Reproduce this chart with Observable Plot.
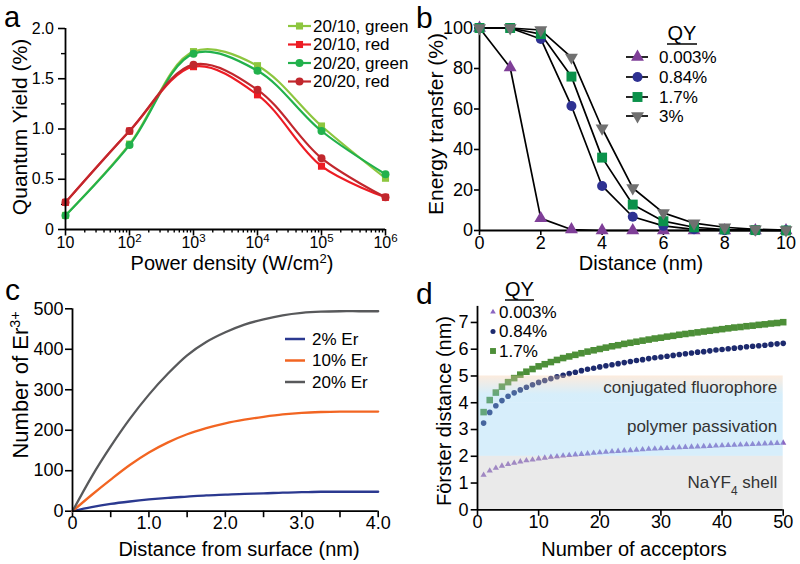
<!DOCTYPE html>
<html><head><meta charset="utf-8">
<script src="https://cdn.jsdelivr.net/npm/d3@7"></script>
<script src="https://cdn.jsdelivr.net/npm/@observablehq/plot@0.6"></script>
<style>
html,body{margin:0;padding:0;background:#fff;}
#wrap{position:relative;width:800px;height:564px;overflow:hidden;background:#fff;}
svg{overflow:visible;}
</style></head><body><div id="wrap"></div>
<script>
// ---------------- DATA ----------------
// Panel a
const powerDensity = [10, 100, 1000, 1e4, 1e5, 1e6];
const seriesA = ["20/10, green", "20/10, red", "20/20, green", "20/20, red"];
const qy2010Green = [0.14, 0.85, 1.77, 1.63, 1.03, 0.51];
const qy2010Red   = [0.27, 0.98, 1.62, 1.34, 0.63, 0.32];
const qy2020Green = [0.14, 0.84, 1.75, 1.58, 0.98, 0.55];
const qy2020Red   = [0.27, 0.98, 1.64, 1.39, 0.71, 0.32];
const colorsA = ["#8dc63f", "#ed1c24", "#22b14c", "#c1272d"];
const symbolsA = ["square", "square", "circle", "circle"];
const xTicksA = [10, 100, 1000, 1e4, 1e5, 1e6];
const yTicksA = [0, 0.5, 1, 1.5, 2];
const yMinorA = [0.25, 0.75, 1.25, 1.75];

// Panel b
const distanceB = [0, 1, 2, 3, 4, 5, 6, 7, 8, 9, 10];
const seriesB = ["0.003%", "0.84%", "1.7%", "3%"];
const et0003 = [100, 80.5, 6, 0.5, 0, 0, 0, 0, 0, 0, 0];
const et084  = [100, 100, 94.6, 61.5, 22, 6.8, 2.3, 0.6, 0.1, 0, 0];
const et17   = [100, 100, 97, 76, 36, 12.8, 4.6, 1.6, 0.5, 0.2, 0];
const et3    = [100, 100, 99, 85.5, 50.5, 21, 8.7, 3.6, 1.6, 0.6, 0.2];
const colorsB = ["#7f3f98", "#2e3192", "#0b914a", "#707070"];
const xTicksB = [0, 2, 4, 6, 8, 10];
const yTicksB = [0, 20, 40, 60, 80, 100];

// Panel c
const distanceC = [0, 0.25, 0.5, 0.75, 1.0, 1.25, 1.5, 1.75, 2.0, 2.25, 2.5, 2.75, 3.0, 3.25, 3.5, 3.75, 4.0];
const seriesC = ["2% Er", "10% Er", "20% Er"];
const er2  = [0, 10, 18, 24, 29, 33, 36, 39, 41, 43, 44, 46, 47, 48, 48, 48, 48];
const er10 = [0, 40, 78, 114, 145, 170, 190, 205, 217, 226, 233, 239, 243, 245, 246, 246, 246];
const er20 = [0, 85, 160, 228, 288, 340, 385, 418, 442, 461, 474, 484, 490, 493, 494, 494, 494];
const colorsC = ["#2b3990", "#f26522", "#58595b"];
const xTicksC = [0, 0.5, 1, 1.5, 2, 2.5, 3, 3.5, 4];
const yTicksC = [0, 100, 200, 300, 400, 500];

// Panel d
const acceptors = d3.range(1, 51);
const seriesD = ["0.003%", "0.84%", "1.7%"];
const r0003 = [1.30,1.46,1.56,1.64,1.70,1.75,1.80,1.84,1.87,1.91,1.94,1.97,1.99,2.02,2.04,2.06,2.08,2.10,2.12,2.14,2.16,2.18,2.19,2.21,2.22,2.24,2.25,2.27,2.28,2.29,2.30,2.32,2.33,2.34,2.35,2.36,2.37,2.38,2.39,2.40,2.41,2.42,2.43,2.44,2.45,2.46,2.47,2.48,2.49,2.50];
const r084 = [3.24,3.64,3.89,4.08,4.24,4.37,4.48,4.58,4.67,4.76,4.83,4.90,4.97,5.03,5.09,5.14,5.20,5.25,5.29,5.34,5.38,5.42,5.46,5.50,5.54,5.58,5.61,5.65,5.68,5.71,5.74,5.77,5.80,5.83,5.86,5.89,5.91,5.94,5.97,5.99,6.02,6.04,6.06,6.09,6.11,6.13,6.15,6.18,6.20,6.22];
const r17 = [3.65,4.10,4.38,4.60,4.77,4.92,5.05,5.16,5.26,5.36,5.44,5.52,5.60,5.67,5.73,5.79,5.85,5.91,5.96,6.01,6.06,6.11,6.15,6.20,6.24,6.28,6.32,6.36,6.40,6.43,6.47,6.50,6.54,6.57,6.60,6.63,6.66,6.69,6.72,6.75,6.78,6.81,6.83,6.86,6.88,6.91,6.93,6.96,6.98,7.01];
const colorsD = ["#8b66c2", "#1d2a6e", "#4d8f38"];
const bandLo = [0, 2, 4];
const bandHi = [2, 4, 5];
const bandLabel = ["NaYF₄ shell", "polymer passivation", "conjugated fluorophore"];
const bandLabelAt = [1.0, 3.1, 4.55];
const xTicksD = [0, 10, 20, 30, 40, 50];
const yTicksD = [0, 1, 2, 3, 4, 5, 6, 7];

// ---------------- HELPERS ----------------
const FONT = '"Liberation Sans", Arial, Helvetica, sans-serif';
const wrap = document.getElementById("wrap");
function put(svg, left, top) {
  svg.style.position = "absolute";
  svg.style.left = left + "px";
  svg.style.top = top + "px";
  wrap.appendChild(svg);
  return svg;
}
const styleFor = (fs) => ({background: "transparent", overflow: "visible", fontFamily: FONT, fontSize: fs + "px", color: "#000", maxWidth: "none"});
const triDown = {
  draw(ctx, size) {
    const s3 = Math.sqrt(3);
    const y = -Math.sqrt(size / (s3 * 3));
    ctx.moveTo(0, -y * 2);
    ctx.lineTo(-s3 * y, y);
    ctx.lineTo(s3 * y, y);
    ctx.closePath();
  }
};
const AX = 1.8; // axis stroke width

// ---------------- PANEL A ----------------
const valuesA = [qy2010Green, qy2010Red, qy2020Green, qy2020Red];
const tableA = seriesA.flatMap((name, i) => powerDensity.map((p, j) => ({name, p, qy: valuesA[i][j]})));
const minorXA = d3.range(1, 6).flatMap(e => d3.range(2, 10).map(m => m * 10 ** e));
const drawOrderA = [0, 2, 1, 3];
const svgA = Plot.plot({
  width: 400, height: 280, marginLeft: 65, marginRight: 15, marginTop: 28, marginBottom: 51,
  style: styleFor(16),
  x: {type: "log", domain: [10, 1e6]},
  y: {domain: [0, 2]},
  marks: [
    Plot.axisX({ticks: minorXA, tickSize: 3.5, tickFormat: () => "", label: null, strokeWidth: 1.4}),
    Plot.axisX({ticks: xTicksA, tickSize: 6.5, tickPadding: 0.5, label: null, strokeWidth: 1.6, fontSize: 16,
      tickFormat: d => { const e = Math.round(Math.log10(d)); return e === 1 ? "10" : "10|" + e; }}),
    Plot.axisY({ticks: yMinorA, tickSize: 4, tickFormat: () => "", label: null, strokeWidth: 1.4}),
    Plot.axisY({ticks: yTicksA, tickSize: 7, tickPadding: 4.5, label: null, strokeWidth: 1.6, fontSize: 16,
      tickFormat: d => d === 0 ? "0" : d.toFixed(1)}),
    ...drawOrderA.flatMap(i => [
      Plot.line(tableA.filter(d => d.name === seriesA[i]), {x: "p", y: "qy", stroke: colorsA[i], strokeWidth: 2.2, curve: "catmull-rom"}),
      Plot.dot(tableA.filter(d => d.name === seriesA[i]), {x: "p", y: "qy", fill: colorsA[i], symbol: symbolsA[i], r: 4})
    ]),
    Plot.ruleY([0], {stroke: "#000", strokeWidth: AX}),
    Plot.ruleX([10], {stroke: "#000", strokeWidth: AX})
  ]
});
svgA.querySelectorAll("text").forEach(t => {
  const s = t.textContent;
  if (/^10\|\d$/.test(s)) {
    const [b, e] = s.split("|");
    t.textContent = b;
    const sp = document.createElementNS("http://www.w3.org/2000/svg", "tspan");
    sp.setAttribute("baseline-shift", "super");
    sp.setAttribute("font-size", "0.72em");
    sp.textContent = e;
    t.appendChild(sp);
  }
});
put(svgA, 0, 0);

// ---------------- PANEL B ----------------
const valuesB = [et0003, et084, et17, et3];
const tableB = seriesB.flatMap((name, i) => distanceB.map((x, j) => ({name, x, v: valuesB[i][j]})));
const symbolsB = ["triangle", "circle", "square", triDown];
const rB = [4.8, 5, 5.6, 4.8];
const svgB = Plot.plot({
  width: 400, height: 280, marginLeft: 79, marginRight: 14.5, marginTop: 27.5, marginBottom: 50,
  style: styleFor(18),
  x: {domain: [0, 10]},
  y: {domain: [0, 100]},
  marks: [
    Plot.axisX({ticks: xTicksB, tickSize: 5, tickPadding: 0.5, label: null, strokeWidth: 1.6, fontSize: 18}),
    Plot.axisY({ticks: yTicksB, tickSize: 5, tickPadding: 1.5, label: null, strokeWidth: 1.6, fontSize: 18}),
    Plot.ruleY([0], {stroke: "#000", strokeWidth: AX}),
    Plot.ruleX([0], {stroke: "#000", strokeWidth: AX}),
    ...seriesB.map(name => Plot.line(tableB.filter(d => d.name === name), {x: "x", y: "v", stroke: "#000", strokeWidth: 1.7})),
    ...seriesB.map((name, i) => Plot.dot(tableB.filter(d => d.name === name), {x: "x", y: "v", fill: colorsB[i], symbol: symbolsB[i], r: rB[i]}))
  ]
});
put(svgB, 400, 0);

// ---------------- PANEL C ----------------
const valuesC = [er2, er10, er20];
const tableC = seriesC.flatMap((name, i) => distanceC.map((x, j) => ({name, x, n: valuesC[i][j]})));
const svgC = Plot.plot({
  width: 400, height: 284, marginLeft: 72, marginRight: 22.3, marginTop: 28.3, marginBottom: 53.3,
  style: styleFor(18),
  x: {domain: [0, 4]},
  y: {domain: [0, 500]},
  marks: [
    Plot.axisX({ticks: xTicksC, tickSize: 6.5, tickPadding: -1.5, label: null, strokeWidth: 1.6, fontSize: 18,
      tickFormat: d => d === 0 ? "0" : (d % 1 === 0 ? d.toFixed(1) : "")}),
    Plot.axisY({ticks: yTicksC, tickSize: 7, tickPadding: 2, label: null, strokeWidth: 1.6, fontSize: 18}),
    ...seriesC.map((name, i) => Plot.line(tableC.filter(d => d.name === name), {x: "x", y: "n", stroke: colorsC[i], strokeWidth: 2.3, curve: "catmull-rom"})),
    Plot.ruleY([0], {stroke: "#000", strokeWidth: AX}),
    Plot.ruleX([0], {stroke: "#000", strokeWidth: AX})
  ]
});
put(svgC, 0, 280);

// ---------------- PANEL D ----------------
const valuesD = [r0003, r084, r17];
const tableD = seriesD.flatMap((name, i) => acceptors.map((n, j) => ({name, n, r: valuesD[i][j]})));
const symbolsD = ["triangle", "circle", "square"];
const rD = [2.3, 2.8, 3.7];
const bands = bandLo.map((lo, i) => ({lo, hi: bandHi[i], label: bandLabel[i], at: bandLabelAt[i]}));
const bandFills = ["#c4c4c4", "#8fd0f3", "url(#fadeD)"];
const svgD = Plot.plot({
  width: 400, height: 284, marginLeft: 77, marginRight: 17.3, marginTop: 25.9, marginBottom: 54.7,
  style: styleFor(18),
  x: {domain: [0, 50]},
  y: {domain: [0, 7.6]},
  marks: [
    ...seriesD.map((name, i) => Plot.dot(tableD.filter(d => d.name === name), {x: "n", y: "r", fill: colorsD[i], symbol: symbolsD[i], r: rD[i]})),
    ...bands.map((b, i) => Plot.rect([b], {y1: "lo", y2: "hi", fill: bandFills[i], fillOpacity: 0.36})),
    Plot.text(bands, {y: "at", text: "label", frameAnchor: "right", textAnchor: "end", dx: -6, fontSize: 17, fill: "#333"}),
    Plot.axisX({ticks: xTicksD, tickSize: 6.5, tickPadding: -1.5, label: null, strokeWidth: 1.6, fontSize: 18}),
    Plot.axisY({ticks: yTicksD, tickSize: 6.3, tickPadding: 2.7, label: null, strokeWidth: 1.6, fontSize: 18}),
    Plot.ruleY([0], {stroke: "#000", strokeWidth: AX}),
    Plot.ruleX([0], {stroke: "#000", strokeWidth: AX})
  ]
});
{
  const ns = "http://www.w3.org/2000/svg";
  const defs = document.createElementNS(ns, "defs");
  defs.innerHTML = '<linearGradient id="fadeD" x1="0" y1="1" x2="0" y2="0">' +
    '<stop offset="0" stop-color="#8fd0f3"/><stop offset="0.3" stop-color="#8fd0f3"/>' +
    '<stop offset="1" stop-color="#f7c9a2"/></linearGradient>';
  svgD.insertBefore(defs, svgD.firstChild);
  svgD.querySelectorAll("text").forEach(t => {
    const s = t.textContent;
    if (s.includes("₄")) {
      const [pre, post] = s.split("₄");
      t.textContent = pre;
      const sub = document.createElementNS(ns, "tspan");
      sub.setAttribute("baseline-shift", "sub");
      sub.setAttribute("font-size", "0.7em");
      sub.textContent = "4";
      const rest = document.createElementNS(ns, "tspan");
      rest.textContent = post;
      t.appendChild(sub);
      t.appendChild(rest);
    }
  });
}
put(svgD, 400, 280);

// ---------------- OVERLAY: letters, titles, legends ----------------
const ov = d3.create("svg").attr("width", 800).attr("height", 564)
  .style("position", "absolute").style("left", "0px").style("top", "0px").style("overflow", "visible")
  .attr("font-family", FONT);
wrap.appendChild(ov.node());

function label(x, y, parts, {size = 20, anchor = "middle", rotate = false, fill = "#000"} = {}) {
  const t = ov.append("text").attr("font-size", size).attr("text-anchor", anchor).attr("fill", fill)
    .attr("transform", rotate ? `translate(${x},${y}) rotate(-90)` : `translate(${x},${y})`);
  for (const p of parts) {
    if (typeof p === "string") t.append("tspan").text(p);
    else t.append("tspan").attr("baseline-shift", "super").attr("font-size", "0.65em").text(p.t);
  }
  return t;
}
function legendRow({x0, x1, mx, tx, y, color, sym, r, lineColor, lineW, text, size = 17}) {
  if (x1 > x0) ov.append("line").attr("x1", x0).attr("x2", x1).attr("y1", y).attr("y2", y)
    .attr("stroke", lineColor).attr("stroke-width", lineW);
  if (sym) ov.append("path").attr("d", d3.symbol(sym, Math.PI * r * r)())
    .attr("transform", `translate(${mx},${y})`).attr("fill", color);
  ov.append("text").attr("x", tx).attr("y", y).attr("dy", "0.35em").attr("font-size", size).text(text);
}

// panel letters
label(4, 27, ["a"], {size: 29, anchor: "start"});
label(416, 28, ["b"], {size: 30, anchor: "start"});
label(5, 300, ["c"], {size: 30, anchor: "start"});
label(416, 304, ["d"], {size: 30, anchor: "start"});

// axis titles
label(232, 270, ["Power density (W/cm", {t: "2"}, ")"], {size: 20});
label(27, 127, ["Quantum Yield (%)"], {size: 21, rotate: true});
label(641, 270, ["Distance (nm)"], {size: 20});
label(443, 124, ["Energy transfer (%)"], {size: 21, rotate: true});
label(239, 556, ["Distance from surface (nm)"], {size: 20});
label(28, 385, ["Number of Er", {t: "3+"}], {size: 22, rotate: true});
label(634, 556, ["Number of acceptors"], {size: 20});
label(451, 411, ["Förster distance (nm)"], {size: 20, rotate: true});

// legend a
const legYA = [26, 44.5, 63, 81.5];
seriesA.forEach((name, i) => legendRow({x0: 288, x1: 311, mx: 299.5, tx: 313, y: legYA[i], color: colorsA[i],
  sym: symbolsA[i] === "square" ? d3.symbolSquare : d3.symbolCircle, r: 4, lineColor: colorsA[i], lineW: 2.2, text: name}));

// legend b
label(682, 40, ["QY"], {size: 20});
ov.append("line").attr("x1", 667).attr("x2", 697).attr("y1", 44).attr("y2", 44).attr("stroke", "#000").attr("stroke-width", 1.5);
const legYB = [57, 77, 97, 116];
const legSymB = [d3.symbolTriangle, d3.symbolCircle, d3.symbolSquare, triDown];
seriesB.forEach((name, i) => legendRow({x0: 626, x1: 648, mx: 637.5, tx: 659, y: legYB[i], color: colorsB[i],
  sym: legSymB[i], r: rB[i], lineColor: "#000", lineW: 1.7, text: name}));

// legend c
const legYC = [339, 360.5, 382];
seriesC.forEach((name, i) => legendRow({x0: 285, x1: 305, tx: 312, y: legYC[i], lineColor: colorsC[i], lineW: 2.5, text: name}));

// legend d
label(519.5, 296, ["QY"], {size: 20});
ov.append("line").attr("x1", 505).attr("x2", 534).attr("y1", 300).attr("y2", 300).attr("stroke", "#000").attr("stroke-width", 1.5);
const legYD = [312, 331.5, 351];
const legSymD = [d3.symbolTriangle, d3.symbolCircle, d3.symbolSquare];
seriesD.forEach((name, i) => legendRow({x0: 0, x1: 0, mx: 493, tx: 499, y: legYD[i], color: colorsD[i],
  sym: legSymD[i], r: rD[i] * 0.9, text: name}));
</script></body></html>
